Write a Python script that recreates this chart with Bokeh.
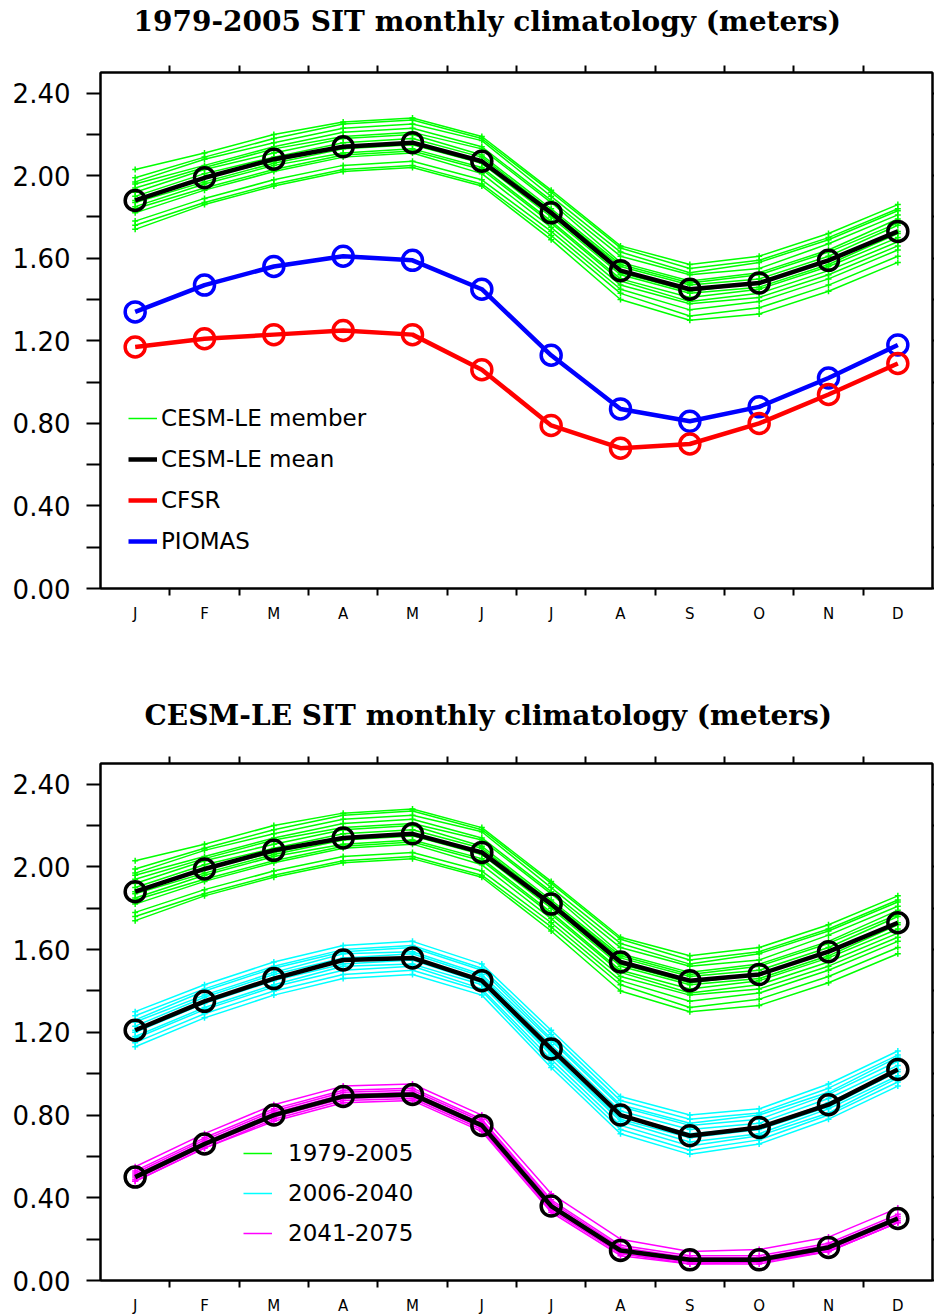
from bokeh.plotting import figure
from bokeh.models import (FixedTicker, LinearAxis, Legend, LegendItem,
                          Range1d, NumeralTickFormatter)
from bokeh.layouts import column
from bokeh.embed import file_html
from bokeh.resources import INLINE

# ---------------- data ----------------
months = [1, 2, 3, 4, 5, 6, 7, 8, 9, 10, 11, 12]
month_labels = ["J", "F", "M", "A", "M", "J", "J", "A", "S", "O", "N", "D"]

# 1979-2005 CESM-LE ensemble mean
le_mean_1979_2005 = [1.88, 1.99, 2.08, 2.14, 2.16, 2.07, 1.82, 1.54, 1.45, 1.48, 1.59, 1.73]
# observations / reanalysis
cfsr = [1.17, 1.21, 1.23, 1.25, 1.23, 1.06, 0.79, 0.68, 0.70, 0.80, 0.94, 1.09]
piomas = [1.34, 1.47, 1.56, 1.61, 1.59, 1.45, 1.13, 0.87, 0.81, 0.88, 1.02, 1.18]

# 1979-2005 members
members_1979_2005 = [
    [2.03, 2.11, 2.20, 2.26, 2.28, 2.19, 1.93, 1.66, 1.57, 1.61, 1.72, 1.86],
    [1.99, 2.09, 2.18, 2.25, 2.27, 2.18, 1.92, 1.65, 1.55, 1.59, 1.70, 1.84],
    [1.97, 2.08, 2.16, 2.23, 2.25, 2.17, 1.90, 1.63, 1.53, 1.58, 1.69, 1.83],
    [1.96, 2.05, 2.14, 2.21, 2.23, 2.14, 1.88, 1.61, 1.52, 1.55, 1.67, 1.81],
    [1.94, 2.04, 2.13, 2.19, 2.21, 2.13, 1.87, 1.58, 1.49, 1.53, 1.64, 1.79],
    [1.92, 2.03, 2.11, 2.18, 2.20, 2.10, 1.84, 1.57, 1.48, 1.52, 1.63, 1.77],
    [1.90, 2.01, 2.09, 2.16, 2.18, 2.09, 1.83, 1.56, 1.47, 1.50, 1.61, 1.76],
    [1.88, 1.99, 2.07, 2.14, 2.16, 2.07, 1.81, 1.53, 1.44, 1.48, 1.59, 1.73],
    [1.87, 1.97, 2.06, 2.13, 2.15, 2.06, 1.80, 1.52, 1.43, 1.46, 1.57, 1.72],
    [1.85, 1.96, 2.05, 2.11, 2.13, 2.04, 1.78, 1.50, 1.41, 1.45, 1.56, 1.70],
    [1.84, 1.94, 2.03, 2.10, 2.12, 2.03, 1.77, 1.49, 1.39, 1.43, 1.54, 1.68],
    [1.82, 1.93, 2.02, 2.09, 2.11, 2.01, 1.75, 1.47, 1.38, 1.41, 1.52, 1.66],
    [1.78, 1.89, 1.98, 2.05, 2.07, 1.98, 1.73, 1.45, 1.35, 1.39, 1.50, 1.64],
    [1.76, 1.87, 1.96, 2.03, 2.05, 1.96, 1.71, 1.43, 1.32, 1.36, 1.47, 1.61],
    [1.74, 1.86, 1.95, 2.02, 2.04, 1.95, 1.69, 1.40, 1.30, 1.33, 1.44, 1.58],
]

# 2006-2040
le_mean_2006_2040 = [1.21, 1.35, 1.46, 1.55, 1.56, 1.45, 1.12, 0.80, 0.70, 0.74, 0.85, 1.02]
members_2006_2040 = [
    [1.30, 1.43, 1.54, 1.62, 1.64, 1.53, 1.21, 0.89, 0.80, 0.83, 0.95, 1.11],
    [1.28, 1.41, 1.52, 1.60, 1.62, 1.51, 1.19, 0.87, 0.78, 0.81, 0.93, 1.09],
    [1.26, 1.40, 1.51, 1.59, 1.61, 1.50, 1.17, 0.85, 0.76, 0.80, 0.91, 1.08],
    [1.25, 1.38, 1.49, 1.58, 1.59, 1.48, 1.16, 0.84, 0.75, 0.78, 0.90, 1.06],
    [1.23, 1.37, 1.48, 1.56, 1.58, 1.47, 1.14, 0.82, 0.73, 0.76, 0.88, 1.04],
    [1.21, 1.35, 1.46, 1.55, 1.56, 1.45, 1.12, 0.80, 0.71, 0.74, 0.86, 1.02],
    [1.20, 1.34, 1.45, 1.53, 1.55, 1.44, 1.10, 0.78, 0.69, 0.73, 0.84, 1.01],
    [1.18, 1.32, 1.43, 1.52, 1.53, 1.43, 1.09, 0.77, 0.67, 0.71, 0.83, 0.99],
    [1.17, 1.31, 1.42, 1.50, 1.52, 1.41, 1.07, 0.75, 0.65, 0.70, 0.81, 0.98],
    [1.15, 1.29, 1.40, 1.48, 1.50, 1.40, 1.05, 0.73, 0.63, 0.68, 0.80, 0.96],
    [1.13, 1.27, 1.38, 1.46, 1.48, 1.38, 1.03, 0.71, 0.61, 0.66, 0.78, 0.94],
]

# 2041-2075
le_mean_2041_2075 = [0.50, 0.66, 0.80, 0.89, 0.90, 0.75, 0.36, 0.145, 0.10, 0.10, 0.16, 0.30]
members_2041_2075 = [
    [0.55, 0.71, 0.85, 0.94, 0.95, 0.80, 0.42, 0.20, 0.14, 0.15, 0.21, 0.35],
    [0.53, 0.69, 0.83, 0.92, 0.93, 0.78, 0.39, 0.17, 0.12, 0.12, 0.18, 0.32],
    [0.52, 0.68, 0.82, 0.91, 0.92, 0.77, 0.38, 0.16, 0.11, 0.11, 0.17, 0.31],
    [0.51, 0.67, 0.81, 0.90, 0.91, 0.76, 0.37, 0.15, 0.10, 0.10, 0.16, 0.30],
    [0.50, 0.66, 0.80, 0.89, 0.90, 0.75, 0.36, 0.14, 0.09, 0.09, 0.15, 0.29],
    [0.49, 0.65, 0.79, 0.88, 0.89, 0.74, 0.35, 0.13, 0.09, 0.09, 0.14, 0.28],
    [0.48, 0.64, 0.78, 0.87, 0.88, 0.73, 0.34, 0.13, 0.08, 0.09, 0.14, 0.28],
    [0.48, 0.64, 0.77, 0.86, 0.87, 0.72, 0.33, 0.12, 0.08, 0.08, 0.14, 0.28],
]

title_top = "1979-2005 SIT monthly climatology (meters)"
title_bottom = "CESM-LE SIT monthly climatology (meters)"
y_major = [0.0, 0.4, 0.8, 1.2, 1.6, 2.0, 2.4]
y_minor = [0.2, 0.6, 1.0, 1.4, 1.8, 2.2]
x_minor = [1.5, 2.5, 3.5, 4.5, 5.5, 6.5, 7.5, 8.5, 9.5, 10.5, 11.5]

GREEN = "#00ff00"
CYAN = "#00ffff"
MAGENTA = "#ff00ff"
BLUE = "#0000ff"
RED = "#ff0000"
SANS = "DejaVu Sans"


def make_fig(title, frame_h, border_top, border_bottom, t_offset, t_standoff):
    p = figure(frame_width=832, frame_height=frame_h,
               min_border_left=100, min_border_right=2,
               min_border_top=border_top, min_border_bottom=border_bottom,
               x_range=Range1d(0.5, 12.5), y_range=Range1d(0, 2.5),
               output_backend="svg", toolbar_location=None, tools="")
    p.background_fill_color = "white"
    p.border_fill_color = "white"
    p.grid.visible = False
    p.outline_line_color = "black"
    p.outline_line_width = 2

    p.title.text = title
    p.title.align = "left"
    p.title.offset = t_offset
    p.title.vertical_align = "bottom"
    p.title.standoff = t_standoff
    p.title.text_font = "DejaVu Serif"
    p.title.text_font_style = "bold"
    p.title.text_font_size = "28px"
    p.title.text_color = "black"

    xa = p.xaxis[0]
    xa.ticker = FixedTicker(ticks=months, minor_ticks=x_minor)
    xa.major_label_overrides = {m: l for m, l in zip(months, month_labels)}
    xa.major_tick_out = 0
    xa.major_tick_in = 0
    xa.minor_tick_out = 7
    xa.minor_tick_in = 0
    xa.minor_tick_line_width = 2
    xa.axis_line_width = 2
    xa.major_label_standoff = 9
    xa.major_label_text_font = SANS
    xa.major_label_text_font_size = "15px"
    xa.major_label_text_color = "black"

    top = LinearAxis(ticker=FixedTicker(ticks=[], minor_ticks=x_minor))
    top.major_tick_out = 0
    top.major_tick_in = 0
    top.minor_tick_out = 7
    top.minor_tick_in = 0
    top.minor_tick_line_width = 2
    top.axis_line_width = 2
    top.major_label_standoff = 0
    p.add_layout(top, "above")

    ya = p.yaxis[0]
    ya.ticker = FixedTicker(ticks=y_major, minor_ticks=y_minor)
    ya.formatter = NumeralTickFormatter(format="0.00")
    ya.major_tick_out = 14
    ya.major_tick_in = 0
    ya.minor_tick_out = 14
    ya.minor_tick_in = 0
    ya.major_tick_line_width = 2
    ya.minor_tick_line_width = 2
    ya.axis_line_width = 2
    ya.major_label_standoff = 16
    ya.major_label_text_font = SANS
    ya.major_label_text_font_size = "26px"
    ya.major_label_text_color = "black"

    right = LinearAxis(ticker=FixedTicker(ticks=[], minor_ticks=y_major + y_minor))
    right.major_tick_out = 0
    right.major_tick_in = 0
    right.minor_tick_out = 2
    right.minor_tick_in = 0
    right.minor_tick_line_width = 2
    right.axis_line_width = 2
    right.major_label_standoff = 0
    p.add_layout(right, "right")
    return p


def members(p, series_list, color):
    first = None
    for s in series_list:
        r = p.line(months, s, line_color=color, line_width=1.5)
        p.scatter(months, s, marker="cross", size=6, line_color=color, line_width=1.5)
        if first is None:
            first = r
    return first


def mean_line(p, s, color, width=4.5):
    r = p.line(months, s, line_color=color, line_width=width)
    p.scatter(months, s, marker="circle", size=20, line_color=color,
              line_width=3.5, fill_alpha=0)
    return r


def style_legend(lg, standoff, spacing):
    lg.background_fill_alpha = 0
    lg.border_line_alpha = 0
    lg.label_text_font = SANS
    lg.label_text_font_size = "23px"
    lg.label_text_color = "black"
    lg.glyph_width = 29
    lg.glyph_height = 20
    lg.label_height = 20
    lg.label_standoff = standoff
    lg.spacing = spacing
    lg.padding = 0
    lg.margin = 0


# ---------------- top panel ----------------
# figure starts 25px above the page so its title can sit high above the frame
p1 = make_fig(title_top, 516, 97, 69, 33, 55)
p1.margin = (-25, 0, 0, 0)
g1 = members(p1, members_1979_2005, GREEN)
k1 = mean_line(p1, le_mean_1979_2005, "black")
b1 = mean_line(p1, piomas, BLUE)
r1 = mean_line(p1, cfsr, RED)

leg1 = Legend(items=[LegendItem(label="CESM-LE member", renderers=[g1]),
                     LegendItem(label="CESM-LE mean", renderers=[k1]),
                     LegendItem(label="CFSR", renderers=[r1]),
                     LegendItem(label="PIOMAS", renderers=[b1])],
              location=(28, 34))
style_legend(leg1, 4, 15)
p1.add_layout(leg1)

# ---------------- bottom panel ----------------
p2 = make_fig(title_bottom, 517, 106, 35, 44, 49)
g2 = members(p2, members_1979_2005, GREEN)
mean_line(p2, le_mean_1979_2005, "black")
c2 = members(p2, members_2006_2040, CYAN)
mean_line(p2, le_mean_2006_2040, "black")
m2 = members(p2, members_2041_2075, MAGENTA)
mean_line(p2, le_mean_2041_2075, "black")

leg2 = Legend(items=[LegendItem(label="1979-2005", renderers=[g2]),
                     LegendItem(label="2006-2040", renderers=[c2]),
                     LegendItem(label="2041-2075", renderers=[m2])],
              location=(143, 34))
style_legend(leg2, 16, 14)
p2.add_layout(leg2)

layout = column(p1, p2, spacing=0)
open("out.html", "w").write(file_html(layout, INLINE))
